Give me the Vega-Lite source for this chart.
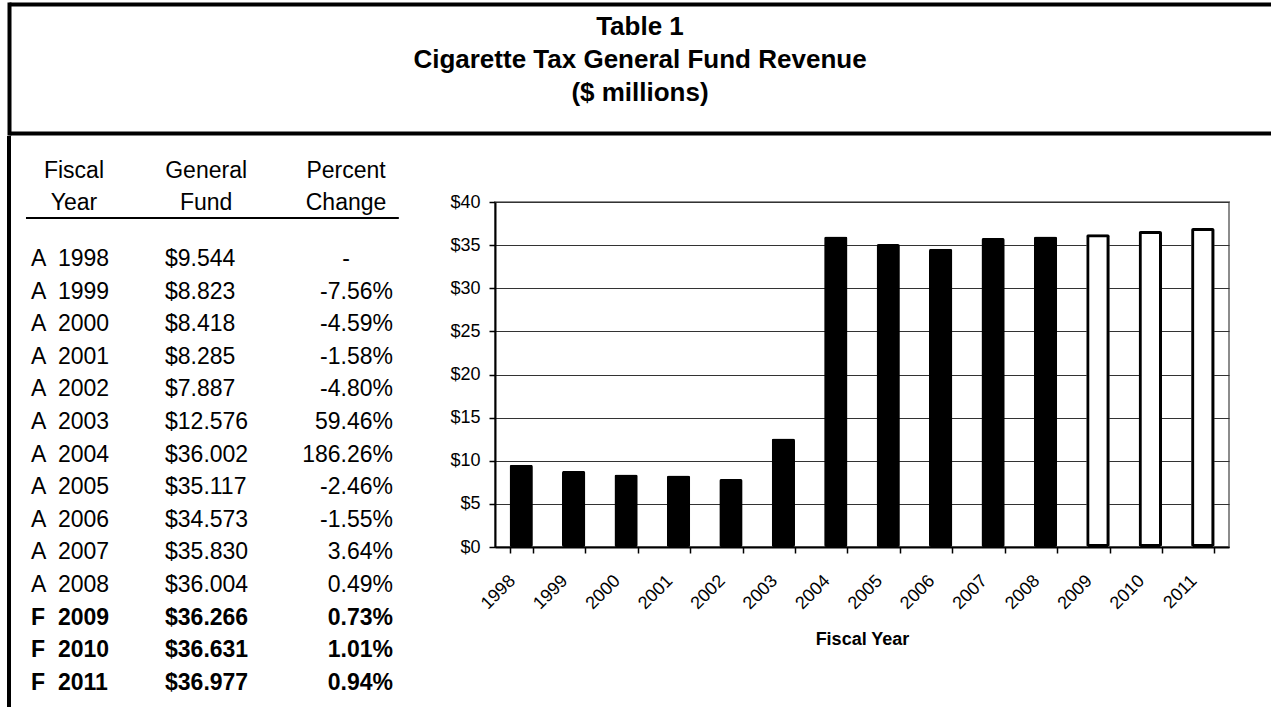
{
  "$schema": "https://vega.github.io/schema/vega-lite/v6.json",
  "padding": {"left": 7, "top": 4, "right": 0, "bottom": 0},
  "autosize": {"type": "pad"},
  "background": "white",
  "spacing": 0,
  "config": {
    "font": "Liberation Sans",
    "view": {"stroke": null},
    "locale": {"number": {"decimal": ".", "thousands": ",", "grouping": [3], "currency": ["$", ""], "minus": "-"}}
  },
  "datasets": {
    "rev": [
      {"year": 1998, "type": "A", "fund": 9.544, "pct": null},
      {"year": 1999, "type": "A", "fund": 8.823, "pct": -0.0756},
      {"year": 2000, "type": "A", "fund": 8.418, "pct": -0.0459},
      {"year": 2001, "type": "A", "fund": 8.285, "pct": -0.0158},
      {"year": 2002, "type": "A", "fund": 7.887, "pct": -0.0480},
      {"year": 2003, "type": "A", "fund": 12.576, "pct": 0.5946},
      {"year": 2004, "type": "A", "fund": 36.002, "pct": 1.8626},
      {"year": 2005, "type": "A", "fund": 35.117, "pct": -0.0246},
      {"year": 2006, "type": "A", "fund": 34.573, "pct": -0.0155},
      {"year": 2007, "type": "A", "fund": 35.830, "pct": 0.0364},
      {"year": 2008, "type": "A", "fund": 36.004, "pct": 0.0049},
      {"year": 2009, "type": "F", "fund": 36.266, "pct": 0.0073},
      {"year": 2010, "type": "F", "fund": 36.631, "pct": 0.0101},
      {"year": 2011, "type": "F", "fund": 36.977, "pct": 0.0094}
    ]
  },
  "vconcat": [
    {
      "width": 1262,
      "height": 129,
      "data": {"values": [
        {"line": 1, "text": "Table 1"},
        {"line": 2, "text": "Cigarette Tax General Fund Revenue"},
        {"line": 3, "text": "($ millions)"}
      ]},
      "layer": [
        {
          "mark": {"type": "text", "fontSize": 26, "fontWeight": "bold", "color": "black", "baseline": "middle", "align": "center"},
          "encoding": {
            "text": {"field": "text"},
            "y": {"field": "line", "type": "quantitative",
                  "scale": {"domain": [0.303, 4.212], "reverse": true, "nice": false, "zero": false},
                  "axis": {"orient": "left", "labels": false, "ticks": false, "title": null, "grid": false,
                           "domain": true, "domainColor": "black", "domainWidth": 4, "domainCap": "square"}},
            "x": {"datum": 0.5, "type": "quantitative", "scale": {"domain": [0, 1], "nice": false},
                  "axis": {"orient": "top", "labels": false, "ticks": false, "grid": false, "title": null,
                           "domain": true, "domainColor": "black", "domainWidth": 4}}
          }
        },
        {
          "mark": {"type": "text", "opacity": 0},
          "encoding": {
            "text": {"field": "text"},
            "y": {"field": "line", "type": "quantitative"},
            "x": {"datum": 0.5, "type": "quantitative", "scale": {"domain": [0, 1], "nice": false},
                  "axis": {"orient": "bottom", "labels": false, "ticks": false, "grid": false, "title": null,
                           "domain": true, "domainColor": "black", "domainWidth": 4}}
          }
        }
      ],
      "resolve": {"axis": {"x": "independent"}}
    },
    {
      "spacing": 0,
      "hconcat": [
        {
          "width": 439,
          "height": 505,
          "data": {"name": "rev"},
          "encoding": {
            "y": {"field": "year", "type": "quantitative",
                  "scale": {"domain": [1996.252, 2011.743], "reverse": true, "nice": false, "zero": false},
                  "axis": null}
          },
          "layer": [
            {
              "transform": [{"filter": "datum.type == 'A'"}],
              "layer": [
                {"mark": {"type": "text", "fontSize": 23, "align": "left", "baseline": "middle", "color": "black"},
                 "encoding": {"text": {"field": "type"},
                              "x": {"datum": 5.01, "type": "quantitative", "scale": {"domain": [0, 100], "nice": false}, "axis": null}}},
                {"mark": {"type": "text", "fontSize": 23, "align": "left", "baseline": "middle", "color": "black"},
                 "encoding": {"text": {"field": "year", "type": "nominal"},
                              "x": {"datum": 11.16, "type": "quantitative", "scale": {"domain": [0, 100], "nice": false}, "axis": null}}},
                {"mark": {"type": "text", "fontSize": 23, "align": "left", "baseline": "middle", "color": "black"},
                 "encoding": {"text": {"field": "fund", "type": "quantitative", "format": "$.3f"},
                              "x": {"datum": 35.54, "type": "quantitative", "scale": {"domain": [0, 100], "nice": false}, "axis": null}}},
                {"transform": [{"filter": "datum.pct != null"}],
                 "mark": {"type": "text", "fontSize": 23, "align": "right", "baseline": "middle", "color": "black"},
                 "encoding": {"text": {"field": "pct", "type": "quantitative", "format": ".2%"},
                              "x": {"datum": 87.47, "type": "quantitative", "scale": {"domain": [0, 100], "nice": false}, "axis": null}}},
                {"transform": [{"filter": "datum.pct == null"}],
                 "mark": {"type": "text", "fontSize": 23, "align": "center", "baseline": "middle", "color": "black", "text": "-"},
                 "encoding": {"x": {"datum": 76.77, "type": "quantitative", "scale": {"domain": [0, 100], "nice": false}, "axis": null}}}
              ]
            },
            {
              "transform": [{"filter": "datum.type == 'F'"}],
              "layer": [
                {"mark": {"type": "text", "fontSize": 23, "fontWeight": "bold", "align": "left", "baseline": "middle", "color": "black"},
                 "encoding": {"text": {"field": "type"},
                              "x": {"datum": 5.01, "type": "quantitative", "scale": {"domain": [0, 100], "nice": false}, "axis": null}}},
                {"mark": {"type": "text", "fontSize": 23, "fontWeight": "bold", "align": "left", "baseline": "middle", "color": "black"},
                 "encoding": {"text": {"field": "year", "type": "nominal"},
                              "x": {"datum": 11.16, "type": "quantitative", "scale": {"domain": [0, 100], "nice": false}, "axis": null}}},
                {"mark": {"type": "text", "fontSize": 23, "fontWeight": "bold", "align": "left", "baseline": "middle", "color": "black"},
                 "encoding": {"text": {"field": "fund", "type": "quantitative", "format": "$.3f"},
                              "x": {"datum": 35.54, "type": "quantitative", "scale": {"domain": [0, 100], "nice": false}, "axis": null}}},
                {"mark": {"type": "text", "fontSize": 23, "fontWeight": "bold", "align": "right", "baseline": "middle", "color": "black"},
                 "encoding": {"text": {"field": "pct", "type": "quantitative", "format": ".2%"},
                              "x": {"datum": 87.47, "type": "quantitative", "scale": {"domain": [0, 100], "nice": false}, "axis": null}}}
              ]
            },
            {
              "transform": [{"filter": "datum.year == 1998"}],
              "layer": [
                {"mark": {"type": "text", "fontSize": 23, "align": "center", "baseline": "middle", "color": "black", "lineHeight": 32, "text": ["Fiscal", "Year"]},
                 "encoding": {
                   "x": {"datum": 14.8, "type": "quantitative", "scale": {"domain": [0, 100], "nice": false}, "axis": null},
                   "y": {"datum": 1995.301, "type": "quantitative"}}},
                {"mark": {"type": "text", "fontSize": 23, "align": "center", "baseline": "middle", "color": "black", "lineHeight": 32, "text": ["General", "Fund"]},
                 "encoding": {
                   "x": {"datum": 44.9, "type": "quantitative", "scale": {"domain": [0, 100], "nice": false}, "axis": null},
                   "y": {"datum": 1995.301, "type": "quantitative"}}},
                {"mark": {"type": "text", "fontSize": 23, "align": "center", "baseline": "middle", "color": "black", "lineHeight": 32, "text": ["Percent", "Change"]},
                 "encoding": {
                   "x": {"datum": 76.77, "type": "quantitative", "scale": {"domain": [0, 100], "nice": false}, "axis": null},
                   "y": {"datum": 1995.301, "type": "quantitative"}}},
                {"mark": {"type": "rule", "color": "black", "strokeWidth": 2},
                 "encoding": {
                   "x": {"datum": 3.87, "type": "quantitative", "scale": {"domain": [0, 100], "nice": false}, "axis": null},
                   "x2": {"datum": 88.8},
                   "y": {"datum": 1996.742, "type": "quantitative"}}},
                {"mark": {"type": "rule", "color": "black", "strokeWidth": 4, "strokeCap": "butt"},
                 "encoding": {
                   "x": {"datum": 0, "type": "quantitative", "scale": {"domain": [0, 100], "nice": false}, "axis": null},
                   "y": {"datum": 1994.227, "type": "quantitative"},
                   "y2": {"datum": 2011.743}}}
              ]
            }
          ]
        },
        {
          "width": 734,
          "height": 345,
          "data": {"name": "rev"},
          "view": {"stroke": "#8c8c8c", "strokeWidth": 2},
          "mark": {"type": "bar", "stroke": "black", "strokeJoin": "round", "cornerRadius": 2},
          "encoding": {
            "x": {"field": "year", "type": "ordinal",
                  "scale": {"paddingInner": 0.556, "paddingOuter": 0.278},
                  "axis": {"title": "Fiscal Year", "titleFontSize": 18, "titleFontWeight": "bold", "titleColor": "black",
                           "titlePadding": 18,
                           "labelAngle": -45, "labelAlign": "right", "labelBaseline": "middle",
                           "labelFontSize": 18, "labelColor": "black", "labelPadding": 25, "labelOffset": -9,
                           "tickBand": "extent", "tickSize": 6, "tickWidth": 1.5, "tickColor": "black",
                           "domainColor": "black", "domainWidth": 2, "grid": false}},
            "y": {"field": "fund", "type": "quantitative",
                  "scale": {"domain": [0, 40], "nice": false},
                  "axis": {"title": null,
                           "values": [0, 5, 10, 15, 20, 25, 30, 35, 40], "format": "$.0f",
                           "labelFontSize": 18, "labelColor": "black", "labelPadding": 9,
                           "tickSize": 6, "tickWidth": 1.5, "tickColor": "black",
                           "domainColor": "black", "domainWidth": 2,
                           "grid": true, "gridColor": "#333333", "gridWidth": 1}},
            "fill": {"field": "type", "type": "nominal", "scale": {"domain": ["A", "F"], "range": ["black", "white"]}, "legend": null},
            "strokeWidth": {"condition": {"test": "datum.type == 'F'", "value": 6}, "value": 0}
          }
        }
      ]
    }
  ]
}
